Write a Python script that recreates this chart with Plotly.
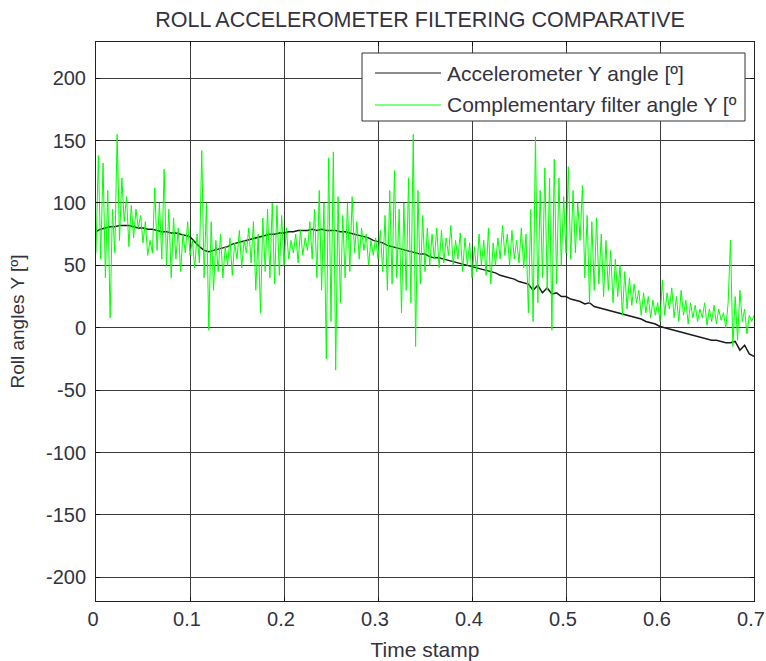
import numpy as np
import plotly.graph_objects as go

# Accelerometer Y angle, sampled every 0.005 s from 0 to 0.7
accel_y = [77, 79, 80, 81, 81, 82, 82, 82, 81, 80, 80, 79, 79, 78, 77, 77, 76, 76, 75, 74,
           73, 69, 65, 62, 61, 62, 63, 64, 65, 67, 68, 69, 70, 71, 72, 73, 74, 75, 75, 76,
           76, 77, 77, 78, 78, 78, 79, 78, 79, 78, 78, 78, 77, 77, 76, 75, 74, 73, 72, 70,
           69, 68, 66, 65, 64, 63, 62, 61, 60, 59, 59, 57, 56, 56, 55, 54, 53, 52, 51, 50,
           49, 48, 47, 46, 45, 44, 42, 41, 40, 39, 37, 36, 35, 30, 34, 28, 32, 27, 28, 25,
           25, 23, 22, 21, 19, 20, 17, 16, 15, 14, 13, 12, 11, 10, 9, 8, 7, 5, 4, 3,
           1, 0, -1, -2, -3, -4, -5, -6, -7, -8, -9, -10, -10, -11, -12, -12, -11, -18, -14, -21,
           -23]

# Complementary filter angle Y, sampled every 0.0025 s from 0 to 0.7
comp_y = [60, 138, 55, 132, 40, 110, 8, 95, 60, 155, 70, 120, 85, 105, 65, 98, 72, 95, 80, 90,
          68, 85, 58, 70, 60, 112, 62, 100, 55, 127, 50, 95, 40, 88, 55, 80, 45, 75, 60, 85,
          58, 70, 48, 75, 52, 142, 40, 100, -2, 85, 30, 70, 45, 75, 40, 65, 50, 72, 42, 68,
          55, 78, 48, 70, 60, 80, 52, 85, 30, 75, 12, 88, 45, 95, 40, 100, 35, 98, 42, 90,
          50, 80, 55, 70, 60, 75, 52, 78, 58, 72, 62, 85, 55, 95, 40, 110, 30, 100, -25, 136,
          5, 141, -34, 105, 20, 90, 40, 100, 45, 105, 60, 85, 55, 80, 62, 75, 50, 70, 58, 72,
          55, 78, 45, 90, 30, 110, 35, 126, 40, 95, 12, 100, 30, 120, 20, 155, -15, 110, 35, 90,
          45, 80, 50, 75, 55, 80, 48, 78, 52, 72, 58, 82, 50, 70, 55, 76, 45, 72, 50, 68,
          40, 65, 45, 75, 50, 70, 42, 80, 35, 68, 50, 72, 55, 82, 58, 75, 50, 78, 55, 70,
          52, 80, 48, 75, 12, 95, 5, 153, 20, 110, 40, 128, 30, 120, -2, 135, 35, 120, 50, 105,
          60, 129, 55, 110, 60, 100, 70, 114, 40, 90, 20, 85, 30, 88, 35, 75, 25, 70, 30, 62,
          20, 55, 25, 50, 10, 45, 15, 40, 18, 35, 20, 30, 10, 28, 12, 25, 8, 22, 10, 20,
          5, 38, 10, 28, 15, 32, 8, 25, 5, 30, 10, 22, 3, 20, 8, 18, 5, 15, 8, 20,
          2, 15, 5, 18, 3, 15, 6, 12, 0, 20, 70, -15, 25, -10, 30, 5, 15, -5, 10, 5,
          10]

series_names = ["Accelerometer Y angle [º]", "Complementary filter angle Y [º"]
series_colors = ["#1a1a1a", "#00ff00"]

x_accel = np.linspace(0, 0.7, len(accel_y))
x_comp = np.linspace(0, 0.7, len(comp_y))

x_ticks = [0, 0.1, 0.2, 0.3, 0.4, 0.5, 0.6, 0.7]
x_tick_text = ["0", "0.1", "0.2", "0.3", "0.4", "0.5", "0.6", "0.7"]
y_ticks = [-200, -150, -100, -50, 0, 50, 100, 150, 200]
y_tick_text = ["-200", "-150", "-100", "-50", "0", "50", "100", "150", "200"]

FONT = "Liberation Sans, Arial, sans-serif"
TXT = "#333340"

W, H = 766, 661

fig = go.Figure()
fig.add_trace(go.Scatter(x=x_accel, y=accel_y, mode="lines", name=series_names[0],
                         showlegend=False, line=dict(color=series_colors[0], width=1.5)))
fig.add_trace(go.Scatter(x=x_comp, y=comp_y, mode="lines", name=series_names[1],
                         showlegend=False, line=dict(color=series_colors[1], width=1)))

axis_common = dict(showline=True, linecolor="#222222", linewidth=1, mirror="ticks",
                   showgrid=True, gridcolor="#3a3a3a", gridwidth=1.3,
                   ticks="inside", ticklen=4, tickcolor="#111111", zeroline=False,
                   automargin=False, ticklabeloverflow="allow",
                   tickfont=dict(family=FONT, size=20, color=TXT))

fig.update_xaxes(range=[0, 0.7], tickvals=x_ticks, ticktext=x_tick_text,
                 ticklabelshift=-3,
                 title=dict(text="Time stamp", font=dict(family=FONT, size=21, color=TXT), standoff=14),
                 **axis_common)
fig.update_yaxes(range=[-219, 229], tickvals=y_ticks, ticktext=y_tick_text,
                 ticklabelstandoff=5,
                 title=dict(text="Roll angles Y [º]", font=dict(family=FONT, size=19, color=TXT), standoff=16),
                 **axis_common)

# Legend box drawn in paper coordinates (MATLAB-style, clipped text)
def px_x(p):
    return (p - 96) / 658.0

def px_y(p):
    return (601 - p) / 559.0

shapes = [dict(type="rect", xref="paper", yref="paper",
               x0=px_x(362), x1=px_x(745), y0=px_y(121), y1=px_y(53),
               line=dict(color="#333333", width=1), fillcolor="white", layer="above")]
annotations = []
for i, (nm, col) in enumerate(zip(series_names, series_colors)):
    yy = px_y(73 + 32 * i)
    shapes.append(dict(type="line", xref="paper", yref="paper",
                       x0=px_x(375), x1=px_x(441), y0=yy, y1=yy,
                       line=dict(color=col, width=1.2), layer="above"))
    annotations.append(dict(text=nm, xref="paper", yref="paper", x=px_x(445), y=yy,
                            xanchor="left", yanchor="middle", showarrow=False,
                            font=dict(family=FONT, size=21, color=TXT)))

fig.update_layout(
    width=W, height=H,
    margin=dict(l=96, r=W - 754, t=42, b=H - 601),
    paper_bgcolor="white", plot_bgcolor="white",
    title=dict(text="ROLL ACCELEROMETER FILTERING COMPARATIVE", x=420 / W, xanchor="center",
               y=1 - 19 / H, yanchor="middle",
               font=dict(family=FONT, size=21.5, color=TXT)),
    shapes=shapes, annotations=annotations,
    showlegend=False,
)

# Remove the default page margin so the figure fills the 766x661 window exactly
fig.write_html("out.html", config={"displayModeBar": False},
               post_script="document.body.style.margin='0';document.body.style.overflow='hidden';")
